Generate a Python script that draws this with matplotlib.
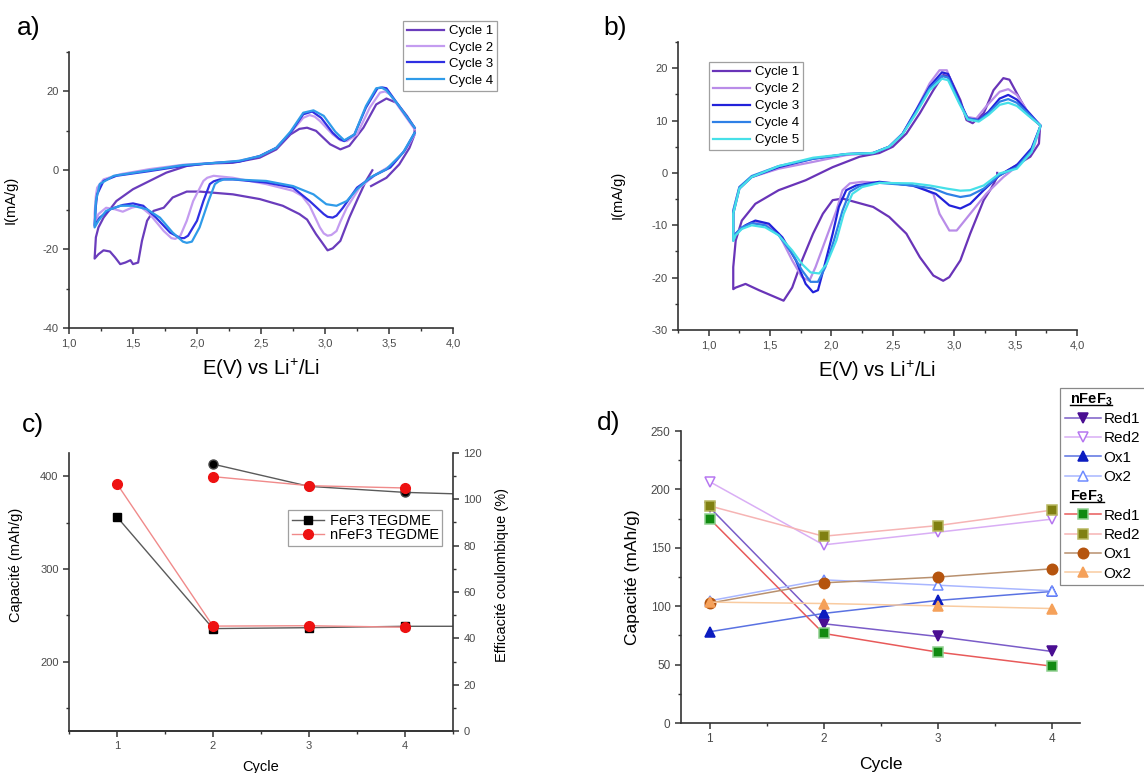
import matplotlib
matplotlib.use('Agg')
import matplotlib.pyplot as plt
from matplotlib.ticker import MultipleLocator, FuncFormatter
from matplotlib.lines import Line2D

plt.rcParams['font.family'] = ['Liberation Sans', 'DejaVu Sans']
plt.rcParams['mathtext.fontset'] = 'custom'
plt.rcParams['mathtext.rm'] = 'Liberation Sans'
plt.rcParams['mathtext.it'] = 'Liberation Sans:italic'
plt.rcParams['mathtext.bf'] = 'Liberation Sans:bold'
plt.rcParams['axes.unicode_minus'] = False

# ---------------- data: panel a (CV, E in V, I in mA/g) ----------------
a_labels = ['Cycle 1', 'Cycle 2', 'Cycle 3', 'Cycle 4']
a_colors = ['#6a3cbc', '#c49cf0', '#2f2fe2', '#2f9be9']
a_cycle1 = [(3.37, 0.0), (3.32, -2.7), (3.26, -6.9), (3.19, -12.0), (3.12, -17.9), (3.06, -19.8),
            (3.02, -20.3), (2.97, -18.0), (2.93, -16.2), (2.86, -12.5), (2.80, -11.1), (2.67, -9.0),
            (2.49, -7.3), (2.28, -6.1), (2.02, -5.4), (1.92, -5.4), (1.81, -6.9), (1.74, -9.5),
            (1.66, -10.3), (1.61, -12.8), (1.57, -17.9), (1.54, -23.4), (1.50, -23.8), (1.48, -22.8),
            (1.44, -23.4), (1.40, -23.8), (1.36, -22.1), (1.32, -20.6), (1.27, -20.3), (1.23, -21.3),
            (1.20, -22.4), (1.21, -17.0), (1.23, -14.5), (1.27, -12.0), (1.37, -7.8), (1.50, -4.8),
            (1.63, -2.7), (1.76, -0.6), (1.92, 1.1), (2.07, 1.7), (2.28, 1.9), (2.49, 3.2), (2.62, 5.3),
            (2.73, 9.1), (2.80, 10.5), (2.86, 10.8), (2.93, 10.0), (3.04, 6.6), (3.12, 5.3), (3.19, 6.2),
            (3.30, 10.8), (3.40, 16.7), (3.48, 18.2), (3.56, 17.1), (3.64, 13.8), (3.70, 10.8),
            (3.70, 9.1), (3.66, 5.7), (3.58, 1.5), (3.48, -1.9), (3.36, -4.0)]
a_cycle2 = [(3.70, 9.1), (3.64, 5.7), (3.53, 1.5), (3.40, -1.0), (3.27, -4.4), (3.17, -9.5), (3.12, -13.0),
            (3.09, -15.4), (3.05, -16.4), (3.02, -16.6), (2.99, -16.0), (2.96, -14.5), (2.88, -9.0),
            (2.82, -6.5), (2.75, -5.2), (2.54, -3.5), (2.28, -1.9), (2.13, -1.4), (2.08, -1.9), (2.05, -2.7),
            (1.97, -7.8), (1.92, -12.8), (1.87, -16.6), (1.83, -17.4), (1.80, -17.2), (1.74, -15.4),
            (1.63, -11.1), (1.55, -9.0), (1.49, -9.5), (1.42, -10.5), (1.36, -9.9), (1.29, -9.5),
            (1.23, -11.1), (1.20, -13.7), (1.20, -11.0), (1.21, -6.5), (1.22, -4.4), (1.27, -2.3),
            (1.40, -1.0), (1.63, 0.3), (1.89, 1.4), (2.15, 1.9), (2.33, 2.4), (2.49, 3.6), (2.62, 5.7),
            (2.73, 9.5), (2.83, 13.3), (2.88, 14.0), (2.92, 13.6), (2.96, 12.5), (3.06, 9.1), (3.12, 7.6),
            (3.17, 7.4), (3.25, 9.1), (3.35, 15.9), (3.43, 19.7), (3.47, 20.0), (3.51, 19.2), (3.58, 15.9),
            (3.70, 10.4)]
a_cycle3 = [(3.70, 9.5), (3.62, 4.9), (3.51, 0.7), (3.38, -1.4), (3.25, -4.4), (3.14, -9.5), (3.09, -11.5),
            (3.06, -12.0), (3.02, -11.8), (2.99, -11.1), (2.88, -7.8), (2.75, -4.4), (2.54, -3.1),
            (2.28, -2.3), (2.18, -2.3), (2.13, -2.8), (2.10, -3.5), (2.05, -7.8), (2.00, -12.8),
            (1.93, -16.6), (1.90, -17.2), (1.87, -17.2), (1.79, -15.8), (1.68, -12.0), (1.58, -9.0),
            (1.50, -8.4), (1.42, -8.8), (1.32, -9.9), (1.24, -12.0), (1.20, -14.1), (1.21, -9.0),
            (1.22, -6.1), (1.27, -2.7), (1.37, -1.4), (1.63, -0.2), (1.89, 1.1), (2.15, 1.9), (2.33, 2.2),
            (2.49, 3.6), (2.62, 5.7), (2.73, 9.5), (2.83, 14.2), (2.90, 14.9), (2.97, 13.3), (3.06, 9.5),
            (3.11, 8.0), (3.15, 7.4), (3.23, 9.1), (3.32, 15.9), (3.41, 20.8), (3.45, 21.0), (3.48, 20.8),
            (3.57, 16.7), (3.70, 10.8)]
a_cycle4 = [(3.70, 9.5), (3.61, 4.5), (3.48, 0.3), (3.35, -1.9), (3.25, -4.8), (3.17, -7.8), (3.09, -9.0),
            (3.01, -8.6), (2.91, -6.1), (2.75, -4.0), (2.54, -2.7), (2.28, -2.3), (2.21, -2.3), (2.17, -2.8),
            (2.14, -3.5), (2.09, -7.8), (2.02, -14.5), (1.96, -18.1), (1.92, -18.4), (1.89, -18.1),
            (1.81, -15.8), (1.71, -12.0), (1.61, -9.9), (1.50, -9.0), (1.40, -9.0), (1.29, -10.3),
            (1.23, -12.8), (1.20, -14.5), (1.21, -7.8), (1.24, -3.5), (1.35, -1.4), (1.63, 0.0),
            (1.89, 1.3), (2.15, 1.9), (2.33, 2.4), (2.49, 3.6), (2.62, 5.7), (2.73, 9.8), (2.83, 14.6),
            (2.91, 15.2), (2.99, 13.8), (3.08, 9.8), (3.15, 7.6), (3.23, 9.1), (3.32, 16.3), (3.40, 20.8),
            (3.44, 21.0), (3.48, 20.3), (3.57, 16.7), (3.70, 10.8)]

# ---------------- data: panel b (CV) ----------------
b_labels = ['Cycle 1', 'Cycle 2', 'Cycle 3', 'Cycle 4', 'Cycle 5']
b_colors = ['#6934b8', '#b98ce8', '#2222da', '#2f80e6', '#46e0e8']
b_cycle1 = [(3.35, 0.0), (3.35, -0.8), (3.30, -3.0), (3.24, -5.2), (3.13, -11.6), (3.05, -16.7),
            (2.96, -19.9), (2.91, -20.6), (2.83, -19.6), (2.72, -16.1), (2.61, -11.6), (2.47, -8.4),
            (2.34, -6.5), (2.20, -5.6), (2.09, -4.9), (2.01, -5.2), (1.93, -7.8), (1.85, -11.6),
            (1.76, -16.7), (1.68, -21.9), (1.61, -24.4), (1.55, -23.8), (1.41, -22.4), (1.30, -21.2),
            (1.22, -21.9), (1.20, -22.2), (1.20, -18.0), (1.22, -12.9), (1.27, -9.1), (1.38, -5.9),
            (1.57, -3.3), (1.79, -1.4), (2.01, 1.1), (2.23, 3.1), (2.39, 3.8), (2.50, 5.0), (2.61, 7.5),
            (2.72, 11.4), (2.83, 15.8), (2.91, 18.7), (2.96, 18.4), (3.05, 13.9), (3.10, 10.1),
            (3.15, 9.5), (3.24, 11.4), (3.32, 15.8), (3.40, 18.1), (3.45, 17.8), (3.54, 13.9),
            (3.62, 10.7), (3.70, 9.1), (3.69, 5.6), (3.62, 3.1), (3.48, 1.1), (3.35, -0.8)]
b_cycle2 = [(3.70, 8.8), (3.65, 5.0), (3.54, 1.8), (3.40, -0.8), (3.26, -4.0), (3.13, -7.8), (3.02, -11.0),
            (2.96, -11.0), (2.88, -7.8), (2.83, -4.0), (2.72, -2.7), (2.53, -2.0), (2.25, -1.7),
            (2.15, -2.0), (2.09, -3.3), (2.04, -7.2), (1.95, -12.9), (1.87, -18.0), (1.82, -20.6),
            (1.76, -19.9), (1.68, -16.7), (1.57, -11.6), (1.46, -9.7), (1.35, -9.4), (1.27, -10.4),
            (1.22, -11.6), (1.20, -12.6), (1.20, -7.2), (1.25, -2.7), (1.35, -0.8), (1.57, 0.8),
            (1.85, 2.1), (2.12, 3.4), (2.34, 3.8), (2.47, 5.0), (2.58, 7.5), (2.69, 12.0), (2.80, 17.1),
            (2.88, 19.6), (2.94, 19.6), (3.02, 14.6), (3.10, 10.7), (3.18, 10.4), (3.26, 12.7),
            (3.37, 15.5), (3.44, 16.0), (3.51, 14.9), (3.59, 12.0), (3.70, 9.1)]
b_cycle3 = [(3.70, 8.8), (3.63, 4.7), (3.51, 1.5), (3.37, -0.4), (3.24, -3.3), (3.13, -5.9), (3.05, -6.8),
            (2.96, -6.2), (2.85, -4.0), (2.66, -2.4), (2.39, -1.7), (2.20, -2.4), (2.12, -3.3),
            (2.06, -6.5), (2.01, -11.6), (1.94, -18.0), (1.89, -22.4), (1.85, -22.8), (1.79, -21.2),
            (1.71, -16.7), (1.60, -12.3), (1.49, -9.7), (1.38, -9.1), (1.30, -10.0), (1.22, -11.6),
            (1.20, -12.9), (1.20, -7.8), (1.25, -3.0), (1.35, -0.8), (1.57, 1.1), (1.85, 2.7),
            (2.12, 3.6), (2.34, 3.8), (2.47, 5.0), (2.58, 7.5), (2.69, 12.0), (2.80, 16.5), (2.90, 19.2),
            (2.95, 18.9), (3.04, 13.9), (3.11, 10.4), (3.20, 10.1), (3.28, 11.7), (3.37, 14.2),
            (3.44, 14.9), (3.51, 14.0), (3.60, 11.7), (3.70, 9.1)]
b_cycle4 = [(3.70, 8.8), (3.63, 4.3), (3.51, 1.1), (3.37, -0.4), (3.24, -3.0), (3.13, -4.3), (3.05, -4.6),
            (2.94, -4.0), (2.83, -3.0), (2.66, -2.4), (2.39, -1.9), (2.23, -2.5), (2.15, -3.6),
            (2.09, -7.2), (2.02, -12.9), (1.95, -18.0), (1.89, -20.8), (1.83, -20.8), (1.76, -18.6),
            (1.68, -15.4), (1.57, -11.9), (1.46, -10.0), (1.35, -9.6), (1.27, -10.4), (1.22, -11.6),
            (1.20, -12.7), (1.20, -7.2), (1.25, -2.7), (1.35, -0.6), (1.57, 1.3), (1.85, 2.7),
            (2.12, 3.6), (2.34, 3.8), (2.47, 5.0), (2.58, 7.5), (2.69, 11.7), (2.80, 16.2), (2.90, 18.5),
            (2.95, 18.2), (3.04, 13.6), (3.11, 10.4), (3.20, 10.0), (3.28, 11.4), (3.37, 13.6),
            (3.44, 14.1), (3.51, 13.4), (3.60, 11.4), (3.70, 9.1)]
b_cycle5 = [(3.70, 8.8), (3.63, 4.0), (3.51, 0.8), (3.37, -0.1), (3.24, -2.4), (3.13, -3.3), (3.05, -3.4),
            (2.94, -3.0), (2.80, -2.4), (2.66, -2.0), (2.39, -1.9), (2.25, -2.7), (2.17, -4.0),
            (2.10, -7.8), (2.04, -12.9), (1.96, -17.4), (1.90, -19.2), (1.83, -19.0), (1.76, -17.4),
            (1.68, -14.8), (1.57, -11.9), (1.46, -10.4), (1.35, -10.0), (1.27, -10.7), (1.22, -11.9),
            (1.20, -13.0), (1.20, -7.8), (1.25, -3.0), (1.35, -0.8), (1.57, 1.3), (1.85, 2.9),
            (2.12, 3.6), (2.34, 3.8), (2.47, 5.0), (2.58, 7.4), (2.69, 11.4), (2.80, 15.8), (2.90, 18.0),
            (2.95, 17.7), (3.04, 13.3), (3.11, 10.2), (3.20, 9.8), (3.28, 11.1), (3.37, 13.0),
            (3.44, 13.4), (3.51, 12.8), (3.60, 11.0), (3.70, 9.1)]

# ---------------- data: panel c ----------------
c_cap_cycles_fef3 = [1, 2, 3, 4, 5]
c_cap_fef3 = [356, 235.5, 236.5, 238, 238]
c_cap_cycles_nfef3 = [1, 2, 3, 4]
c_cap_nfef3 = [391.7, 238.2, 238.6, 237.0]
c_eff_cycles_fef3 = [2, 3, 4, 5]
c_eff_fef3 = [115.2, 105.6, 103.0, 101.8]
c_eff_cycles_nfef3 = [2, 3, 4]
c_eff_nfef3 = [109.8, 105.9, 104.9]
c_legend = ['FeF3 TEGDME', 'nFeF3 TEGDME']

# ---------------- data: panel d ----------------
d_cycles = [1, 2, 3, 4]
n_red1 = [184.7, 85, 74.1, 61.3]
n_red2 = [206.7, 152.5, 163.3, 174.5]
n_ox1 = [78.1, 93.8, 104.9, 112.6]
n_ox2 = [104.6, 122.6, 118, 113.2]
f_red1 = [175, 76.7, 60.7, 48.7]
f_red2 = [185.9, 159.9, 169, 182.2]
f_ox1 = [102.6, 120, 124.9, 132]
f_ox2 = [103.5, 102.3, 100.3, 98]

W, H = 1144, 773
fig = plt.figure(figsize=(W / 100, H / 100), dpi=100)

SPINE = '#333333'
TICKLAB = '#4a4a4a'


def comma(x, pos):
    return f'{x:.1f}'.replace('.', ',')


def style(ax, labelsize=8):
    ax.spines['top'].set_visible(False)
    ax.spines['right'].set_visible(False)
    for s in ['left', 'bottom', 'right']:
        ax.spines[s].set_color(SPINE)
        ax.spines[s].set_linewidth(1.2)
    ax.tick_params(which='major', direction='out', length=4, width=1.1, colors=SPINE,
                   labelsize=labelsize, labelcolor=TICKLAB)
    ax.tick_params(which='minor', direction='out', length=2.5, width=1.0, colors=SPINE)


def fig_rect(l, t, r, b):
    return [l / W, 1 - b / H, (r - l) / W, (b - t) / H]


# ---------------- panel a ----------------
ax_a = fig.add_axes(fig_rect(69, 52, 453, 328))
style(ax_a)
for data, col, lab in zip([a_cycle1, a_cycle2, a_cycle3, a_cycle4], a_colors, a_labels):
    e, i = zip(*data)
    ax_a.plot(e, i, color=col, lw=1.6, label=lab, solid_joinstyle='round')
ax_a.set_xlim(1.0, 4.0)
ax_a.set_ylim(-40, 30)
ax_a.xaxis.set_major_locator(MultipleLocator(0.5))
ax_a.xaxis.set_minor_locator(MultipleLocator(0.25))
ax_a.xaxis.set_major_formatter(FuncFormatter(comma))
ax_a.yaxis.set_major_locator(MultipleLocator(20))
ax_a.yaxis.set_minor_locator(MultipleLocator(10))
ax_a.set_xlabel('E(V) vs Li$^{+}$/Li', fontsize=14.5, labelpad=6)
ax_a.set_ylabel('I(mA/g)', fontsize=10.5)
ax_a.yaxis.set_label_coords(-51 / 384, (328 - 200) / 276)
leg_a = ax_a.legend(loc='upper right', bbox_to_anchor=(497 / W, 1 - 21 / H),
                    bbox_transform=fig.transFigure, fontsize=9.5, frameon=True, fancybox=False,
                    edgecolor='#888888', handlelength=2.8, labelspacing=0.32, borderpad=0.3,
                    handletextpad=0.4, borderaxespad=0)
leg_a.get_frame().set_linewidth(0.9)

# ---------------- panel b ----------------
ax_b = fig.add_axes(fig_rect(678, 42, 1077, 330))
style(ax_b)
for data, col, lab in zip([b_cycle1, b_cycle2, b_cycle3, b_cycle4, b_cycle5], b_colors, b_labels):
    e, i = zip(*data)
    ax_b.plot(e, i, color=col, lw=1.6, label=lab, solid_joinstyle='round')
ax_b.set_xlim(0.75, 4.0)
ax_b.set_ylim(-30, 25)
ax_b.xaxis.set_minor_locator(MultipleLocator(0.25))
ax_b.xaxis.set_major_formatter(FuncFormatter(comma))
ax_b.set_xticks([1.0, 1.5, 2.0, 2.5, 3.0, 3.5, 4.0])
ax_b.yaxis.set_major_locator(MultipleLocator(10))
ax_b.yaxis.set_minor_locator(MultipleLocator(5))
ax_b.set_xlabel('E(V) vs Li$^{+}$/Li', fontsize=14.5, labelpad=6)
ax_b.set_ylabel('I(mA/g)', fontsize=10.5)
ax_b.yaxis.set_label_coords(-53 / 399, (330 - 195) / 288)
leg_b = ax_b.legend(loc='upper left', bbox_to_anchor=(709 / W, 1 - 62 / H),
                    bbox_transform=fig.transFigure, fontsize=9.5, frameon=True, fancybox=False,
                    edgecolor='#888888', handlelength=2.8, labelspacing=0.36, borderpad=0.3,
                    handletextpad=0.4, borderaxespad=0)
leg_b.get_frame().set_linewidth(0.9)

# ---------------- panel c ----------------
ax_c = fig.add_axes(fig_rect(69, 453, 453, 731))
style(ax_c)
ax_c2 = ax_c.twinx()
style(ax_c2)
ax_c2.spines['right'].set_visible(True)
ax_c2.spines['left'].set_visible(False)
l1, = ax_c.plot(c_cap_cycles_fef3, c_cap_fef3, color='#5a5a5a', lw=1.0, marker='s', ms=6,
                mfc='black', mec='black', label=c_legend[0])
l2, = ax_c.plot(c_cap_cycles_nfef3, c_cap_nfef3, color='#f08a8a', lw=1.0, marker='o', ms=7,
                mfc='#ee1111', mec='#ee1111', label=c_legend[1])
ax_c2.plot(c_eff_cycles_fef3, c_eff_fef3, color='#5a5a5a', lw=1.0, marker='o', ms=6.5,
           mfc='black', mec='#444444')
ax_c2.plot(c_eff_cycles_nfef3, c_eff_nfef3, color='#f08a8a', lw=1.0, marker='o', ms=7,
           mfc='#ee1111', mec='#ee1111')
ax_c.set_xlim(0.5, 4.5)
ax_c.set_ylim(125, 425)
ax_c2.set_ylim(0, 120)
ax_c.xaxis.set_major_locator(MultipleLocator(1))
ax_c.xaxis.set_minor_locator(MultipleLocator(0.5))
ax_c.yaxis.set_major_locator(MultipleLocator(100))
ax_c.yaxis.set_minor_locator(MultipleLocator(50))
ax_c2.yaxis.set_major_locator(MultipleLocator(20))
ax_c2.yaxis.set_minor_locator(MultipleLocator(10))
ax_c.set_xlabel('Cycle', fontsize=10.5, labelpad=6)
ax_c.set_ylabel('Capacité (mAh/g)', fontsize=10.5)
ax_c.yaxis.set_label_coords(-46 / 384, (731 - 565) / 278)
ax_c2.set_ylabel('Efficacité coulombique (%)', fontsize=10.5)
ax_c2.yaxis.set_label_coords(1 + 42 / 384, (731 - 575) / 278)
leg_c = ax_c2.legend([l1, l2], c_legend, loc='upper left', bbox_to_anchor=(288 / W, 1 - 510 / H),
                     bbox_transform=fig.transFigure, fontsize=10.5, frameon=True, fancybox=False,
                     edgecolor='#888888', handlelength=2.2, labelspacing=0.05, borderpad=0.25,
                     handletextpad=0.4, borderaxespad=0)
leg_c.get_frame().set_linewidth(0.9)

# ---------------- panel d ----------------
ax_d = fig.add_axes(fig_rect(681, 431, 1080, 723))
style(ax_d, labelsize=8.5)
series_d = [
    (n_red1, 'v', '#7a5cc8', '#4a0e92', '#4a0e92', 'Red1'),
    (n_red2, 'v', '#d9aef5', 'white', '#b677f0', 'Red2'),
    (n_ox1, '^', '#5a72e2', '#0c1cc0', '#0c1cc0', 'Ox1'),
    (n_ox2, '^', '#a8b6ff', 'white', '#6f8cff', 'Ox2'),
    (f_red1, 's', '#e85a5a', '#118a11', '#8fd08f', 'Red1'),
    (f_red2, 's', '#f6b4b4', '#808012', '#b8b860', 'Red2'),
    (f_ox1, 'o', '#b8906e', '#b5540e', '#b5540e', 'Ox1'),
    (f_ox2, '^', '#f9cba0', '#f5a15a', '#f5a15a', 'Ox2'),
]
d_handles = []
for vals, mk, lc, fc, ec, lab in series_d:
    h, = ax_d.plot(d_cycles, vals, color=lc, lw=1.1, marker=mk, ms=7.5, mfc=fc, mec=ec,
                   mew=1.1, label=lab)
    d_handles.append(h)
ax_d.set_xlim(0.75, 4.25)
ax_d.set_ylim(0, 250)
ax_d.xaxis.set_major_locator(MultipleLocator(1))
ax_d.xaxis.set_minor_locator(MultipleLocator(0.5))
ax_d.yaxis.set_major_locator(MultipleLocator(50))
ax_d.yaxis.set_minor_locator(MultipleLocator(25))
ax_d.set_xlabel('Cycle', fontsize=12.5, labelpad=8)
ax_d.set_ylabel('Capacité (mAh/g)', fontsize=12.5, labelpad=8)

blank = Line2D([], [], linestyle='none', marker='none')
leg_handles = [blank] + d_handles[:4] + [blank] + d_handles[4:]
leg_labels = [' '] + [s[5] for s in series_d[:4]] + [' '] + [s[5] for s in series_d[4:]]
leg_d = fig.legend(leg_handles, leg_labels, loc='upper left', bbox_to_anchor=(1060 / W, 1 - 388 / H),
                   bbox_transform=fig.transFigure, fontsize=11, frameon=True, fancybox=False,
                   edgecolor='#888888', handlelength=2.4, labelspacing=0.35, borderpad=0.3,
                   handletextpad=0.15, borderaxespad=0)
leg_d.get_frame().set_linewidth(0.9)
leg_d.get_frame().set_alpha(1.0)

# headers inside legend d
fig.canvas.draw()
rend = fig.canvas.get_renderer()
fr = leg_d.get_frame().get_window_extent(rend)
texts = leg_d.get_texts()
for idx, head in [(0, r'$\mathbf{nFeF_3}$'), (5, r'$\mathbf{FeF_3}$')]:
    tb = texts[idx].get_window_extent(rend)
    yc = (tb.y0 + tb.y1) / 2
    t = fig.text((fr.x0 + 10) / W, yc / H, head, fontsize=10.5, va='center', ha='left',
                 color='black', zorder=20)
    fig.canvas.draw()
    eb = t.get_window_extent(rend)
    fig.add_artist(Line2D([eb.x0 / W, eb.x1 / W], [(eb.y0 + 3) / H, (eb.y0 + 3) / H],
                          transform=fig.transFigure, color='black', lw=1.0, zorder=20))

# panel labels
fig.text(17 / W, 1 - 35 / H, 'a)', fontsize=19, va='baseline', ha='left')
fig.text(603 / W, 1 - 35 / H, 'b)', fontsize=19, va='baseline', ha='left')
fig.text(22 / W, 1 - 432 / H, 'c)', fontsize=19, va='baseline', ha='left')
fig.text(597 / W, 1 - 430 / H, 'd)', fontsize=19, va='baseline', ha='left')

fig.savefig('out.png', dpi=100)
